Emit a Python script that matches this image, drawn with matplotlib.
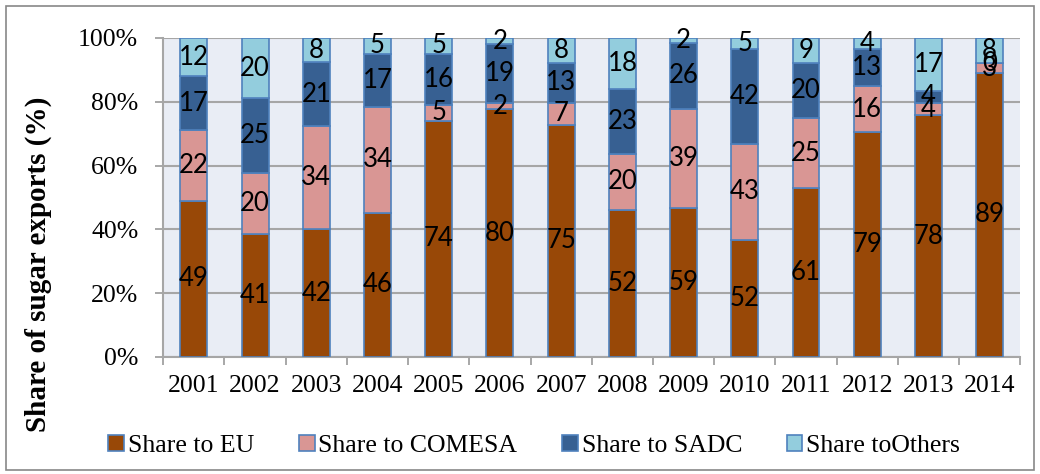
import numpy as np
import matplotlib
matplotlib.use("Agg")
import matplotlib.pyplot as plt
from matplotlib.patches import Rectangle

years = ["2001", "2002", "2003", "2004", "2005", "2006", "2007",
         "2008", "2009", "2010", "2011", "2012", "2013", "2014"]
eu = [49, 41, 42, 46, 74, 80, 75, 52, 59, 52, 61, 79, 78, 89]
comesa = [22, 20, 34, 34, 5, 2, 7, 20, 39, 43, 25, 16, 4, 3]
sadc = [17, 25, 21, 17, 16, 19, 13, 23, 26, 42, 20, 13, 4, 0]
others = [12, 20, 8, 5, 5, 2, 8, 18, 2, 5, 9, 4, 17, 8]

series = [eu, comesa, sadc, others]
names = ["Share to EU", "Share to COMESA", "Share to SADC", "Share toOthers"]
colors = ["#984807", "#D99694", "#376092", "#93CDDD"]
edge = "#4F81BD"

# bars are drawn as share of the yearly total (100% stacked)
raw = np.array(series, dtype=float)
pct = raw / raw.sum(axis=0) * 100

serif = ["Liberation Serif", "DejaVu Serif"]

fig = plt.figure(figsize=(10.4, 4.74), dpi=100)
ax = fig.add_axes([0.157, 0.247, 0.824, 0.673])
ax.set_facecolor("#E9EDF5")

x = np.arange(len(years))
bottom = np.zeros(len(years))
for vals, p, c, n in zip(series, pct, colors, names):
    ax.bar(x, p, 0.44, bottom=bottom, color=c, edgecolor=edge,
           linewidth=1.2, label=n, zorder=3)
    for xi, b, h, v in zip(x, bottom, p, vals):
        ax.text(xi, b + h / 2, str(v), ha="center", va="center",
                fontsize=18.5, family="Lato", color="black", zorder=4)
    bottom += p

ax.set_xlim(-0.5, len(years) - 0.5)
ax.set_ylim(0, 100)
ax.set_yticks(range(0, 101, 20))
ax.set_yticklabels([f"{v}%" for v in range(0, 101, 20)], family=serif, fontsize=18.5)
ax.set_xticks(x)
ax.set_xticklabels(years, family=serif, fontsize=18.5)
ax.set_xticks(np.arange(-0.5, len(years)), minor=True)
ax.tick_params(axis="x", which="major", length=0, pad=13)
ax.tick_params(axis="x", which="minor", length=6, color="#999999", width=1.2)
ax.tick_params(axis="y", length=6, color="#999999", width=1.2, pad=12)
ax.grid(axis="y", color="#A6A6A6", linewidth=1.5, zorder=0)
for s in ["top", "right"]:
    ax.spines[s].set_visible(False)
for s in ["left", "bottom"]:
    ax.spines[s].set_color("#A6A6A6")
    ax.spines[s].set_linewidth(1.5)

ax.set_ylabel("Share of sugar exports (%)", family=serif, fontsize=21,
              fontweight="bold")
ax.yaxis.set_label_coords(-0.13, 0.29)

leg = ax.legend(loc="upper center", bbox_to_anchor=(0.433, -0.172), ncol=4,
                frameon=False, prop={"family": serif, "size": 18.5},
                handlelength=0.6, handleheight=0.6, handletextpad=0.15,
                columnspacing=1.75)

fig.patches.append(Rectangle((0.006, 0.008), 0.988, 0.98, transform=fig.transFigure,
                             fill=False, edgecolor="#888888", linewidth=1.2))

fig.savefig("out.png", dpi=100)
